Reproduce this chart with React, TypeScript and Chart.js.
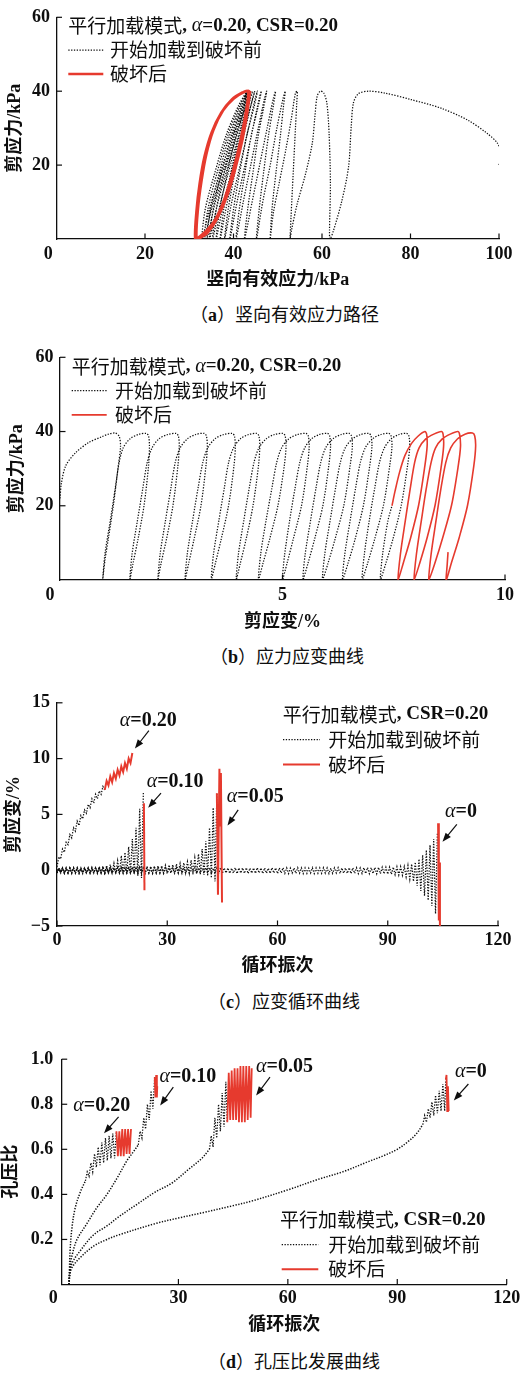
import React, { useEffect, useRef } from 'react';
import { Chart, registerables } from 'chart.js';

Chart.register(...registerables);

type Pt = [number, number];

// ---------------- (a) 竖向有效应力路径 : [竖向有效应力 kPa, 剪应力 kPa] ----------------
const aBeforeFailure: Pt[] = [
  [100, 20], [100.6, 23], [99.6, 26], [97.3, 28.6], [92.9, 32.2], [86.9, 35.4], [80.2, 37.7], [74.2, 39.5], [70.5, 40],
  [68.2, 39.3], [67.1, 36.8], [66.6, 30.4], [66.0, 19.5], [64.5, 10.4], [62.6, 2.3], [61.8, 0],
  [61.7, 2.3], [61.9, 15], [61.6, 28.6], [61.1, 36.8], [60.4, 39.5], [59.6, 40],
  [58.9, 38.6], [58.4, 33.2], [57.8, 25.9], [56.3, 17.7], [54.4, 9.5], [53.1, 2.3], [52.8, 0],
  [53.0, 6], [53.5, 18], [54.0, 30], [54.3, 37], [54.4, 40],
  [54.0, 39.5], [53.0, 32], [51.8, 24], [50.3, 15], [49.0, 7], [48.3, 0],
  [48.7, 8], [49.6, 18], [50.6, 28], [51.3, 36], [51.7, 40],
  [51.2, 38], [49.8, 30], [48.3, 20], [46.6, 10], [45.2, 0],
  [45.8, 8], [46.8, 18], [47.9, 28], [49.0, 36], [49.5, 40],
  [49.0, 38], [47.6, 30], [45.9, 20], [44.2, 10], [42.5, 0],
  [43.2, 8], [44.4, 18], [45.6, 28], [46.9, 36], [47.5, 40],
  [47.0, 38], [45.6, 30], [43.9, 20], [42.2, 10], [40.6, 0],
  [41.3, 8], [42.6, 18], [44.0, 28], [45.6, 36], [46.3, 40],
  [45.8, 38], [44.4, 30], [42.6, 20], [40.8, 10], [39.2, 0],
  [40.0, 8], [41.4, 18], [43.0, 28], [44.7, 36], [45.4, 40],
  [44.9, 38], [43.4, 30], [41.5, 20], [39.6, 10], [38.0, 0],
  [38.8, 8], [40.3, 18], [42.0, 28], [43.9, 36], [44.8, 40],
  [44.3, 38], [42.7, 30], [40.6, 20], [38.6, 10], [37.0, 0],
  [37.8, 8], [39.4, 18], [41.3, 28], [43.3, 36], [44.3, 40],
  [43.8, 38], [42.1, 30], [39.9, 20], [37.8, 10], [36.1, 0],
  [36.9, 8], [38.6, 18], [40.6, 28], [42.8, 36], [43.9, 40],
  [43.4, 38], [41.6, 30], [39.3, 20], [37.1, 10], [35.3, 0],
  [36.1, 8], [37.9, 18], [40.0, 28], [42.4, 36], [43.6, 40],
  [43.1, 38], [41.2, 30], [38.8, 20], [36.5, 10], [34.6, 0],
  [35.4, 8], [37.3, 18], [39.5, 28], [42.0, 36], [43.4, 40],
  [42.9, 38], [40.9, 30], [38.4, 20], [35.9, 10], [34.0, 0],
  [34.8, 8], [36.8, 18], [39.1, 28], [41.7, 36], [43.2, 40],
  [42.7, 38], [40.6, 30], [38.0, 20], [35.4, 10], [33.4, 0],
  [34.2, 8], [36.3, 18], [38.7, 28], [41.4, 36], [43.1, 40],
  [42.5, 38], [40.3, 30], [37.6, 20], [35.0, 10], [32.9, 0],
  [33.6, 8], [35.8, 18], [38.3, 28], [41.1, 36], [43.0, 40],
];
const aAfterFailure: Pt[] = [
  [43.0, 40],
  [42.0, 39.7], [39.6, 37.8], [37.2, 34.2], [35.0, 28.8], [33.4, 22.3], [32.3, 15], [31.6, 7.7], [31.3, 0],
  [32.2, 0.6], [33.6, 2], [35.8, 5.2], [38.1, 11.5], [39.9, 18.7], [41.4, 26], [42.6, 33.3], [43.3, 40],
  [42.2, 39.8], [39.8, 37.9], [37.4, 34.5], [35.2, 29.2], [33.6, 22.6], [32.5, 15.3], [31.8, 7.9], [31.5, 0],
  [32.4, 0.5], [33.9, 1.8], [36.1, 5.4], [38.4, 11.8], [40.2, 19], [41.7, 26.3], [42.9, 33.6], [43.6, 40],
  [42.5, 39.8], [40.1, 38.0], [37.7, 34.8], [35.5, 29.5], [33.9, 22.9], [32.8, 15.6], [32.0, 8.0], [31.7, 0],
  [32.7, 0.4], [34.2, 1.7], [36.4, 5.6], [38.7, 12.0], [40.5, 19.2], [42.0, 26.5], [43.1, 33.8], [43.8, 40],
];
const aXTicks = [20, 40, 60, 80, 100];
const aYTicks = [20, 40, 60];

// ---------------- (b) 应力应变曲线 : [剪应变 %, 剪应力 kPa] ----------------
const bBeforeFailure: Pt[] = [
  [0, 22], [0.03, 26], [0.13, 30.8], [0.35, 34.3], [0.64, 37], [0.94, 38.6], [1.09, 39.3], [1.24, 39.6],
  [1.33, 38.7], [1.36, 36], [1.31, 30.8], [1.20, 20.2], [1.09, 11.4], [1.01, 5.3], [0.96, 0],
  [1.01, 7], [1.13, 16], [1.24, 24.6], [1.33, 31.7], [1.42, 35.6], [1.57, 38], [1.76, 39.2], [1.94, 39.5],
  [1.99, 38.8], [2.01, 36], [1.99, 30.8], [1.89, 20.2], [1.76, 11.4], [1.64, 4.4], [1.57, 0],
  [1.62, 7], [1.74, 16], [1.86, 24.6], [1.96, 31.7], [2.07, 35.6], [2.22, 38], [2.42, 39.2], [2.61, 39.5],
  [2.66, 38.8], [2.68, 36], [2.65, 30.8], [2.54, 20.2], [2.40, 11.4], [2.27, 4.4], [2.20, 0],
  [2.25, 7], [2.37, 16], [2.49, 24.6], [2.59, 31.7], [2.70, 35.6], [2.86, 38], [3.05, 39.2], [3.24, 39.5],
  [3.29, 38.8], [3.31, 36], [3.28, 30.8], [3.17, 20.2], [3.02, 11.4], [2.89, 4.4], [2.81, 0],
  [2.86, 7], [2.98, 16], [3.10, 24.6], [3.21, 31.7], [3.32, 35.6], [3.48, 38], [3.68, 39.2], [3.87, 39.5],
  [3.92, 38.8], [3.94, 36], [3.91, 30.8], [3.79, 20.2], [3.63, 11.4], [3.49, 4.4], [3.40, 0],
  [3.45, 7], [3.57, 16], [3.69, 24.6], [3.79, 31.7], [3.90, 35.6], [4.05, 38], [4.24, 39.2], [4.42, 39.5],
  [4.47, 38.8], [4.49, 36], [4.46, 30.8], [4.34, 20.2], [4.19, 11.4], [4.05, 4.4], [3.96, 0],
  [4.01, 7], [4.13, 16], [4.25, 24.6], [4.36, 31.7], [4.47, 35.6], [4.63, 38], [4.82, 39.2], [5.01, 39.5],
  [5.06, 38.8], [5.08, 36], [5.04, 30.8], [4.90, 20.2], [4.72, 11.4], [4.56, 4.4], [4.46, 0],
  [4.51, 7], [4.63, 16], [4.76, 24.6], [4.87, 31.7], [4.98, 35.6], [5.14, 38], [5.34, 39.2], [5.53, 39.5],
  [5.58, 38.8], [5.60, 36], [5.56, 30.8], [5.43, 20.2], [5.25, 11.4], [5.10, 4.4], [5.00, 0],
  [5.05, 7], [5.16, 16], [5.28, 24.6], [5.39, 31.7], [5.50, 35.6], [5.65, 38], [5.83, 39.2], [6.01, 39.5],
  [6.06, 38.8], [6.08, 36], [6.04, 30.8], [5.91, 20.2], [5.73, 11.4], [5.57, 4.4], [5.46, 0],
  [5.51, 7], [5.63, 16], [5.75, 24.6], [5.86, 31.7], [5.97, 35.6], [6.13, 38], [6.32, 39.2], [6.50, 39.5],
  [6.55, 38.8], [6.57, 36], [6.52, 30.8], [6.38, 20.2], [6.19, 11.4], [6.02, 4.4], [5.90, 0],
  [5.95, 7], [6.07, 16], [6.19, 24.6], [6.30, 31.7], [6.41, 35.6], [6.57, 38], [6.76, 39.2], [6.94, 39.5],
  [6.99, 38.8], [7.01, 36], [6.96, 30.8], [6.82, 20.2], [6.64, 11.4], [6.47, 4.4], [6.35, 0],
  [6.40, 7], [6.52, 16], [6.64, 24.6], [6.75, 31.7], [6.86, 35.6], [7.02, 38], [7.21, 39.2], [7.39, 39.5],
  [7.44, 38.8], [7.46, 36], [7.41, 30.8], [7.27, 20.2], [7.08, 11.4], [6.91, 4.4], [6.79, 0],
  [6.84, 7], [6.95, 16], [7.07, 24.6], [7.18, 31.7], [7.29, 35.6], [7.44, 38], [7.62, 39.2], [7.79, 39.5],
  [7.84, 38.8], [7.86, 36], [7.81, 30.8], [7.67, 20.2], [7.49, 11.4], [7.32, 4.4], [7.20, 0],
  [7.25, 7], [7.37, 16], [7.46, 20],
];
const bAfterFailure: Pt[] = [
  [7.46, 20], [7.53, 24], [7.63, 29], [7.75, 33.5], [7.90, 36.8], [8.05, 38.8], [8.20, 40],
  [8.24, 39.2], [8.25, 36], [8.20, 30.8], [8.06, 20.2], [7.88, 11.4], [7.71, 4.4], [7.60, 0],
  [7.65, 7], [7.76, 16], [7.87, 24.6], [7.97, 31.7], [8.07, 35.6], [8.22, 38], [8.40, 39.3], [8.57, 40],
  [8.61, 39.2], [8.62, 36], [8.57, 30.8], [8.43, 20.2], [8.25, 11.4], [8.08, 4.4], [7.96, 0],
  [8.01, 7], [8.12, 16], [8.23, 24.6], [8.34, 31.7], [8.44, 35.6], [8.59, 38], [8.77, 39.3], [8.94, 40],
  [8.98, 39.2], [9.00, 36], [8.95, 30.8], [8.80, 20.2], [8.60, 11.4], [8.42, 4.4], [8.29, 0],
  [8.34, 7], [8.45, 16], [8.56, 24.6], [8.67, 31.7], [8.78, 35.6], [8.93, 38], [9.10, 39.3], [9.27, 39.6],
  [9.32, 38.8], [9.34, 36], [9.30, 30.8], [9.16, 20.2], [8.97, 11.4], [8.79, 4.4], [8.68, 0],
  [8.70, 4], [8.72, 7.5],
];
const bXTicks = [5, 10];
const bYTicks = [20, 40, 60];

// ---------------- (c) 应变循环曲线 : per-cycle min / max 剪应变 % ----------------
const c0Lo = [
  -0.2, -0.25, -0.28, -0.25, -0.3, -0.25, -0.28, -0.3, -0.25, -0.28,
  -0.26, -0.3, -0.25, -0.28, -0.26, -0.3, -0.25, -0.27, -0.3, -0.26,
  -0.28, -0.25, -0.3, -0.26, -0.28, -0.25, -0.3, -0.27, -0.25, -0.28,
  -0.3, -0.26, -0.28, -0.25, -0.3, -0.27, -0.25, -0.28, -0.3, -0.26,
  -0.28, -0.25, -0.3, -0.26, -0.28, -0.3, -0.25, -0.28, -0.26, -0.3,
  -0.25, -0.28, -0.3, -0.26, -0.28, -0.25, -0.3, -0.27, -0.28, -0.25,
  -0.3, -0.26, -0.28, -0.3, -0.25, -0.28, -0.26, -0.3, -0.28, -0.25,
  -0.3, -0.27, -0.28, -0.26, -0.3, -0.28, -0.25, -0.3, -0.27, -0.28,
  -0.3, -0.28, -0.3, -0.29, -0.3, -0.31, -0.3, -0.32, -0.32, -0.33,
  -0.35, -0.37, -0.4, -0.42, -0.45, -0.6, -0.8, -1.0, -1.4, -1.85,
  -2.3, -2.7, -3.2, -3.9,
];
const c0Hi = [
  0.15, 0.2, 0.22, 0.18, 0.2, 0.22, 0.2, 0.18, 0.22, 0.2,
  0.2, 0.22, 0.18, 0.2, 0.22, 0.2, 0.2, 0.18, 0.22, 0.2,
  0.18, 0.2, 0.22, 0.2, 0.2, 0.18, 0.22, 0.2, 0.2, 0.22,
  0.2, 0.18, 0.2, 0.22, 0.2, 0.2, 0.18, 0.22, 0.2, 0.2,
  0.22, 0.2, 0.18, 0.2, 0.22, 0.2, 0.2, 0.18, 0.22, 0.2,
  0.2, 0.22, 0.18, 0.2, 0.22, 0.2, 0.2, 0.18, 0.22, 0.2,
  0.2, 0.22, 0.2, 0.18, 0.2, 0.22, 0.2, 0.2, 0.18, 0.22,
  0.2, 0.2, 0.22, 0.2, 0.18, 0.2, 0.22, 0.2, 0.2, 0.22,
  0.2, 0.22, 0.2, 0.22, 0.24, 0.22, 0.24, 0.25, 0.26, 0.26,
  0.27, 0.28, 0.3, 0.31, 0.32, 0.42, 0.55, 0.72, 1.0, 1.35,
  1.8, 2.25, 2.8, 3.3,
];
const c0Fail: Pt[] = [[103.7, 4.2], [103.9, -4.5], [104.0, 0.7], [104.2, -5.0]];

const c05Lo = [
  -0.25, -0.22, -0.28, -0.25, -0.22, -0.26, -0.28, -0.24, -0.25, -0.27,
  -0.25, -0.22, -0.26, -0.28, -0.24, -0.25, -0.22, -0.26, -0.25, -0.24,
  -0.25, -0.22, -0.24, -0.25, -0.22, -0.24, -0.25, -0.22, -0.24, -0.25,
  -0.22, -0.24, -0.25, -0.22, -0.25, -0.24, -0.26, -0.28, -0.3, -0.35,
  -0.4, -0.5, -0.7, -1.0,
];
const c05Hi = [
  0.2, 0.18, 0.22, 0.2, 0.2, 0.22, 0.18, 0.2, 0.22, 0.2,
  0.2, 0.22, 0.2, 0.18, 0.22, 0.2, 0.22, 0.24, 0.22, 0.25,
  0.25, 0.27, 0.28, 0.3, 0.32, 0.34, 0.36, 0.38, 0.4, 0.43,
  0.47, 0.5, 0.55, 0.6, 0.66, 0.75, 0.9, 1.1, 1.45, 1.9,
  2.6, 3.8, 5.6, 6.9,
];
const c05Fail: Pt[] = [[43.5, 6.9], [43.8, -2.2], [44.2, 9.1], [44.4, 4.0], [44.6, 8.7], [44.9, -2.9]];

const c10Lo = [
  -0.25, -0.22, -0.27, -0.25, -0.23, -0.26, -0.25, -0.22, -0.25, -0.24,
  -0.25, -0.22, -0.24, -0.25, -0.24, -0.25, -0.26, -0.27, -0.28, -0.3,
  -0.32, -0.36, -0.5, -0.7,
];
const c10Hi = [
  0.2, 0.22, 0.18, 0.2, 0.22, 0.2, 0.2, 0.22, 0.22, 0.24,
  0.26, 0.3, 0.35, 0.42, 0.5, 0.62, 0.85, 1.3, 1.6, 2.1,
  2.8, 3.8, 5.5, 7.0,
];
const c10Fail: Pt[] = [[23.65, 6.0], [23.8, -1.8]];

const c20Lo = [0.3, 1.0, 1.6, 2.3, 2.9, 3.5, 4.0, 4.6, 5.1, 5.6, 6.0, 6.4, 6.8, 7.2];
const c20Hi = [1.2, 1.9, 2.5, 3.2, 3.8, 4.4, 4.9, 5.4, 5.9, 6.4, 6.8, 7.1, 7.5];
const c20FailLo = [7.2, 7.6, 7.9, 8.2, 8.5, 8.8, 9.1, 9.6];
const c20FailHi = [8.0, 8.4, 8.7, 9.0, 9.3, 9.6, 10.0, 10.5];
const c20FailStart = 13;
const cXTicks = [0, 30, 60, 90, 120];
const cYTicks = [-5, 0, 5, 10, 15];

// ---------------- (d) 孔压比发展曲线 : [循环振次, 孔压比] ----------------
const d20Rise: Pt[] = [[0, 0], [0.1, 0.05], [0.3, 0.15], [0.8, 0.25], [1.7, 0.34], [3.1, 0.41], [4.5, 0.46]];
const d20Band: Pt[] = [
  [4.5, 0.46], [5, 0.5], [5.5, 0.48], [6, 0.54], [6.5, 0.5], [7, 0.58], [7.5, 0.52], [8, 0.61], [8.5, 0.53],
  [9, 0.63], [9.5, 0.54], [10, 0.65], [10.5, 0.55], [11, 0.66], [11.5, 0.56], [12, 0.67], [12.5, 0.56], [13, 0.68],
];
const d20Fail: Pt[] = [
  [13, 0.68], [13.4, 0.57], [13.8, 0.68], [14.2, 0.57], [14.6, 0.69], [15.0, 0.57], [15.4, 0.69], [15.8, 0.58],
  [16.2, 0.69], [16.6, 0.58], [17.0, 0.69],
];
const d10Rise: Pt[] = [
  [0, 0], [0.3, 0.08], [1, 0.14], [2.2, 0.2], [4.9, 0.27], [7.6, 0.34], [10.4, 0.4], [13.1, 0.47], [15.9, 0.55],
  [17.7, 0.59], [19, 0.62],
];
const d10Band: Pt[] = [
  [19, 0.62], [19.5, 0.68], [20, 0.65], [20.5, 0.74], [21, 0.69], [21.5, 0.8], [22, 0.73], [22.5, 0.86], [23, 0.78], [23.5, 0.92],
];
const d10Fail: Pt[] = [[23.5, 0.92], [23.7, 0.83], [23.9, 0.93], [24.1, 0.83], [24.2, 0.88]];
const d05Rise: Pt[] = [
  [0, 0], [0.3, 0.06], [1, 0.1], [3.1, 0.15], [6.7, 0.22], [10.4, 0.26], [13.6, 0.3], [19, 0.36], [23.6, 0.41],
  [28.2, 0.45], [32.7, 0.51], [36.4, 0.56], [38.5, 0.6],
];
const d05Band: Pt[] = [
  [38.5, 0.6], [39, 0.66], [39.5, 0.61], [40, 0.74], [40.5, 0.65], [41, 0.8], [41.5, 0.68], [42, 0.85], [42.5, 0.7], [43, 0.9], [43.4, 0.72],
];
const d05Fail: Pt[] = [
  [43.4, 0.72], [43.8, 0.94], [44.2, 0.73], [44.6, 0.95], [45.0, 0.73], [45.4, 0.96], [45.8, 0.73], [46.2, 0.96], [46.6, 0.72],
  [47.0, 0.97], [47.4, 0.72], [47.8, 0.97], [48.2, 0.72], [48.6, 0.97], [49.0, 0.73], [49.4, 0.97], [49.8, 0.74], [50.1, 0.96],
];
const d0Rise: Pt[] = [
  [0, 0], [0.3, 0.05], [1, 0.08], [3.1, 0.12], [6.7, 0.17], [10.4, 0.2], [13.6, 0.22], [23.6, 0.27], [30, 0.295],
  [37, 0.32], [45, 0.35], [50, 0.37], [60, 0.42], [68, 0.465], [75, 0.5], [82, 0.545], [86, 0.57], [90, 0.6],
  [93, 0.635], [95.3, 0.67], [97, 0.71],
];
const d0Band: Pt[] = [
  [97, 0.71], [97.5, 0.75], [98, 0.72], [98.5, 0.78], [99, 0.74], [99.5, 0.81], [100, 0.75], [100.5, 0.84],
  [101, 0.76], [101.5, 0.86], [102, 0.77], [102.5, 0.89], [103, 0.77], [103.3, 0.91],
];
const d0Fail: Pt[] = [[103.3, 0.91], [103.5, 0.93], [103.7, 0.77], [103.9, 0.88], [104.1, 0.77]];
const dXTicks = [30, 60, 90, 120];
const dYTicks = [0.2, 0.4, 0.6, 0.8, 1.0];

// ---------------- texts ----------------
const LEGEND_BEFORE = '开始加载到破坏前';
const LEGEND_AFTER = '破坏后';

// ---------------- styling ----------------
const W = 528;
const H = 1383;
const SERIF = "'Liberation Serif', 'Times New Roman', serif";
const CJK = "'Noto Sans CJK SC', 'Noto Sans CJK JP', sans-serif";
const MIXED = "'Liberation Serif', 'Noto Sans CJK SC', serif";
const INK = '#0e0e0e';
const RED = '#e63a2e';
const DOT = [1.3, 1.5];
const TICK_FONT = { family: SERIF, size: 18, weight: 'bold' };
const TITLE_FONT = { family: MIXED, size: 18, weight: 'bold' };

interface Seg { t: string; f: string }
interface Note { x: number; y: number; segs: Seg[]; from: Pt; to: Pt }
interface LegendSpec { dx: number; dy: number; gap: number; sampleDx: number; sampleW: number; textDx: number; redW: number; title: Seg[] }
interface AxisSpec { min: number; max: number; ticks: number[]; tickPad: number; title: string; titlePad: number; fmt?: (v: number) => string }
interface PanelSpec {
  top: number; height: number;
  area: { left: number; right: number; top: number; bottom: number };
  x: AxisSpec; y: AxisSpec; originDx?: number;
  legend: LegendSpec; notes: Note[]; datasets: any[];
}

const toXY = (pts: Pt[]) => pts.map(([x, y]) => ({ x, y }));
function zigzag(lo: number[], hi: number[], start: number): Pt[] {
  const out: Pt[] = [];
  const n = Math.max(lo.length, hi.length);
  for (let i = 0; i < n; i++) {
    if (i < lo.length) out.push([start + i, lo[i]]);
    if (i < hi.length) out.push([start + i + 0.5, hi[i]]);
  }
  return out;
}
const dotted = (pts: Pt[], tension = 0, width = 1.25) => ({
  data: toXY(pts), showLine: true, borderColor: INK, borderWidth: width, borderDash: DOT,
  pointRadius: 0, pointHoverRadius: 0, tension, fill: false,
});
const solid = (pts: Pt[], width: number, tension = 0) => ({
  data: toXY(pts), showLine: true, borderColor: RED, borderWidth: width,
  pointRadius: 0, pointHoverRadius: 0, tension, fill: false,
});

const alpha = (v: string): Seg[] => [
  { t: 'α', f: `italic 20px ${SERIF}` },
  { t: '=' + v, f: `bold 20px ${SERIF}` },
];
const titleWithAlpha: Seg[] = [
  { t: '平行加载模式', f: `19px ${CJK}` },
  { t: ', ', f: `bold 19px ${SERIF}` },
  { t: 'α', f: `italic 20px ${SERIF}` },
  { t: '=0.20, CSR=0.20', f: `bold 19px ${SERIF}` },
];
const titlePlain: Seg[] = [
  { t: '平行加载模式', f: `19px ${CJK}` },
  { t: ', ', f: `bold 19px ${SERIF}` },
  { t: 'CSR=0.20', f: `bold 19px ${SERIF}` },
];
const minus = (v: number) => (v < 0 ? '\u2212' + Math.abs(v) : String(v));

const PANELS: PanelSpec[] = [
  {
    top: 0, height: 300,
    area: { left: 56.5, right: 499, top: 14, bottom: 239 },
    x: { min: 0, max: 100, ticks: aXTicks, tickPad: 4.2, title: '竖向有效应力/kPa', titlePad: 9.2 },
    y: { min: 0, max: 60, ticks: aYTicks, tickPad: 6.5, title: '剪应力/kPa', titlePad: 4.2 },
    originDx: -8.2,
    legend: { dx: 11.8, dy: 8.7, gap: 24, sampleDx: 0, sampleW: 35, textDx: 41.7, redW: 2.4, title: titleWithAlpha },
    notes: [],
    datasets: [solid(aAfterFailure, 2.2, 0.3), dotted(aBeforeFailure, 0.3)],
  },
  {
    top: 340, height: 300,
    area: { left: 60, right: 505, top: 15, bottom: 240 },
    x: { min: 0, max: 10, ticks: bXTicks, tickPad: 4.2, title: '剪应变/%', titlePad: 7.2 },
    y: { min: 0, max: 60, ticks: bYTicks, tickPad: 6.5, title: '剪应力/kPa', titlePad: 6.2 },
    originDx: -10,
    legend: { dx: 11.7, dy: 9, gap: 24.3, sampleDx: 0, sampleW: 35, textDx: 43.3, redW: 1.8, title: titleWithAlpha },
    notes: [],
    datasets: [solid(bAfterFailure, 1.6, 0.3), dotted(bBeforeFailure, 0.3)],
  },
  {
    top: 685, height: 300,
    area: { left: 57, right: 498, top: 14, bottom: 241 },
    x: { min: 0, max: 120, ticks: cXTicks, tickPad: 3.2, title: '循环振次', titlePad: 8.2 },
    y: { min: -5, max: 15, ticks: cYTicks, tickPad: 7, title: '剪应变/%', titlePad: 3.2, fmt: minus },
    legend: { dx: 225.7, dy: 11.7, gap: 25, sampleDx: 0.3, sampleW: 37, textDx: 45.6, redW: 2, title: titlePlain },
    notes: [
      { x: 17.1, y: 13.4, segs: alpha('0.20'), from: [25.0, 12.5], to: [21.2, 10.9] },
      { x: 24.4, y: 7.9, segs: alpha('0.10'), from: [28.3, 6.9], to: [24.8, 5.6] },
      { x: 46.2, y: 6.55, segs: alpha('0.05'), from: [49.3, 5.4], to: [46.4, 4.0] },
      { x: 105.6, y: 5.2, segs: alpha('0'), from: [108.8, 4.1], to: [104.9, 2.55] },
    ],
    datasets: [
      solid(c0Fail, 2), solid(c05Fail, 2), solid(c10Fail, 2),
      solid(zigzag(c20FailLo, c20FailHi, c20FailStart), 2),
      dotted(zigzag(c20Lo, c20Hi, 0)),
      dotted(zigzag(c10Lo, c10Hi, 0)),
      dotted(zigzag(c05Lo, c05Hi, 0)),
      dotted(zigzag(c0Lo, c0Hi, 0)),
    ],
  },
  {
    top: 1040, height: 300,
    area: { left: 61.7, right: 506.7, top: 16.7, bottom: 244.5 },
    x: { min: -2, max: 120, ticks: dXTicks, tickPad: 2.7, title: '循环振次', titlePad: 4.2 },
    y: { min: 0, max: 1, ticks: dYTicks, tickPad: 8.4, title: '孔压比', titlePad: 0.2, fmt: (v) => v.toFixed(1) },
    originDx: -8.4,
    legend: { dx: 218.3, dy: 160.6, gap: 24.7, sampleDx: 1.7, sampleW: 36.6, textDx: 48.3, redW: 2, title: titlePlain },
    notes: [
      { x: 1.2, y: 0.795, segs: alpha('0.20'), from: [13.6, 0.744], to: [9.6, 0.671] },
      { x: 24.8, y: 0.92, segs: alpha('0.10'), from: [28.6, 0.876], to: [25.0, 0.795] },
      { x: 51.3, y: 0.968, segs: alpha('0.05'), from: [55.1, 0.92], to: [51.3, 0.839] },
      { x: 105.8, y: 0.945, segs: alpha('0'), from: [109.5, 0.89], to: [105.5, 0.817] },
    ],
    datasets: [
      solid(d20Fail, 1.8), solid(d10Fail, 1.8), solid(d05Fail, 1.8), solid(d0Fail, 1.8),
      dotted(d20Band), dotted(d10Band), dotted(d05Band), dotted(d0Band),
      dotted(d20Rise, 0.35, 1.5), dotted(d10Rise, 0.35, 1.5), dotted(d05Rise, 0.35, 1.5), dotted(d0Rise, 0.35, 1.5),
    ],
  },
];

const CAPTIONS = [
  { tag: 'a', text: '竖向有效应力路径', left: 190, top: 304 },
  { tag: 'b', text: '应力应变曲线', left: 210, top: 646 },
  { tag: 'c', text: '应变循环曲线', left: 208, top: 991 },
  { tag: 'd', text: '孔压比发展曲线', left: 208, top: 1351 },
];

function drawSegs(ctx: CanvasRenderingContext2D, segs: Seg[], x: number, y: number) {
  let cx = x;
  for (const s of segs) {
    ctx.font = s.f;
    ctx.fillText(s.t, cx, y);
    cx += ctx.measureText(s.t).width;
  }
}

function drawArrow(ctx: CanvasRenderingContext2D, x1: number, y1: number, x2: number, y2: number) {
  const a = Math.atan2(y2 - y1, x2 - x1);
  const L = 9, Wd = 3.4;
  const bx = x2 - L * Math.cos(a), by = y2 - L * Math.sin(a);
  ctx.beginPath();
  ctx.moveTo(x1, y1);
  ctx.lineTo(bx + 1 * Math.cos(a), by + 1 * Math.sin(a));
  ctx.stroke();
  ctx.beginPath();
  ctx.moveTo(x2, y2);
  ctx.lineTo(bx + Wd * Math.sin(a), by - Wd * Math.cos(a));
  ctx.lineTo(bx - Wd * Math.sin(a), by + Wd * Math.cos(a));
  ctx.closePath();
  ctx.fill();
}

function makeOverlay(spec: PanelSpec) {
  return {
    id: 'overlay',
    afterDraw(chart: any) {
      const ctx: CanvasRenderingContext2D = chart.ctx;
      const { left, top, bottom } = chart.chartArea;
      const xs = chart.scales.x, ys = chart.scales.y;
      ctx.save();
      ctx.setLineDash([]);
      ctx.strokeStyle = INK;
      ctx.fillStyle = INK;
      ctx.lineWidth = 1.2;
      // inward tick marks
      for (const t of xs.ticks) {
        const px = xs.getPixelForValue(t.value);
        ctx.beginPath(); ctx.moveTo(px, bottom); ctx.lineTo(px, bottom - 5.5); ctx.stroke();
      }
      for (const t of ys.ticks) {
        const py = ys.getPixelForValue(t.value);
        ctx.beginPath(); ctx.moveTo(left, py); ctx.lineTo(left + 5.5, py); ctx.stroke();
      }
      // shared origin label
      if (spec.originDx !== undefined) {
        ctx.font = `bold 18px ${SERIF}`;
        ctx.textAlign = 'center';
        ctx.textBaseline = 'middle';
        ctx.fillText('0', left + spec.originDx, bottom + spec.x.tickPad + 10.8);
      }
      // legend
      const lg = spec.legend;
      const lx = left + lg.dx, ly = top + lg.dy;
      ctx.textAlign = 'left';
      ctx.textBaseline = 'middle';
      drawSegs(ctx, lg.title, lx, ly);
      const r1 = ly + lg.gap, r2 = ly + 2 * lg.gap;
      ctx.lineWidth = 1.25;
      ctx.setLineDash(DOT);
      ctx.beginPath(); ctx.moveTo(lx + lg.sampleDx, r1); ctx.lineTo(lx + lg.sampleDx + lg.sampleW, r1); ctx.stroke();
      ctx.setLineDash([]);
      ctx.strokeStyle = RED;
      ctx.lineWidth = lg.redW;
      ctx.beginPath(); ctx.moveTo(lx + lg.sampleDx, r2); ctx.lineTo(lx + lg.sampleDx + lg.sampleW, r2); ctx.stroke();
      ctx.font = `19px ${CJK}`;
      ctx.fillText(LEGEND_BEFORE, lx + lg.textDx, r1);
      ctx.fillText(LEGEND_AFTER, lx + lg.textDx, r2);
      // annotations
      ctx.strokeStyle = INK;
      ctx.lineWidth = 1.2;
      for (const n of spec.notes) {
        drawSegs(ctx, n.segs, xs.getPixelForValue(n.x), ys.getPixelForValue(n.y));
        drawArrow(ctx,
          xs.getPixelForValue(n.from[0]), ys.getPixelForValue(n.from[1]),
          xs.getPixelForValue(n.to[0]), ys.getPixelForValue(n.to[1]));
      }
      ctx.restore();
    },
  };
}

function axisOptions(spec: PanelSpec, isX: boolean) {
  const a = isX ? spec.x : spec.y;
  return {
    type: 'linear',
    position: isX ? 'bottom' : 'left',
    min: a.min,
    max: a.max,
    afterBuildTicks: (s: any) => { s.ticks = a.ticks.map((v) => ({ value: v })); },
    afterFit: (s: any) => {
      if (isX) s.height = spec.height - spec.area.bottom;
      else s.width = spec.area.left;
    },
    grid: { display: false, drawTicks: false },
    border: { display: true, color: INK, width: 1.3 },
    ticks: {
      color: INK, font: TICK_FONT, padding: a.tickPad, autoSkip: false, maxRotation: 0, minRotation: 0,
      callback: (v: any) => (a.fmt ? a.fmt(Number(v)) : String(v)),
    },
    title: {
      display: true, text: a.title, color: INK, font: TITLE_FONT,
      padding: isX ? { top: 0, bottom: a.titlePad } : { top: a.titlePad, bottom: 0 },
    },
  };
}

function Panel({ spec }: { spec: PanelSpec }) {
  const ref = useRef<HTMLCanvasElement>(null);
  useEffect(() => {
    if (!ref.current) return;
    const chart = new Chart(ref.current, {
      type: 'scatter',
      data: { datasets: spec.datasets },
      options: {
        animation: false,
        responsive: false,
        events: [],
        layout: { autoPadding: false, padding: { left: 0, right: W - spec.area.right, top: spec.area.top, bottom: 0 } },
        plugins: { legend: { display: false }, tooltip: { enabled: false }, title: { display: false } },
        scales: { x: axisOptions(spec, true), y: axisOptions(spec, false) },
      },
      plugins: [makeOverlay(spec)],
    } as any);
    return () => chart.destroy();
  }, [spec]);
  return (
    <canvas
      ref={ref}
      width={W}
      height={spec.height}
      style={{ position: 'absolute', left: 0, top: spec.top, width: W, height: spec.height, display: 'block' }}
    />
  );
}

export default function App() {
  return (
    <div style={{ position: 'absolute', left: 0, top: 0, width: W, height: H, background: '#fff', overflow: 'hidden' }}>
      {PANELS.map((p, i) => <Panel key={i} spec={p} />)}
      {CAPTIONS.map((c) => (
        <div
          key={c.tag}
          style={{
            position: 'absolute', left: c.left, top: c.top, fontFamily: CJK, fontSize: 18,
            lineHeight: '18px', whiteSpace: 'nowrap', color: INK,
          }}
        >
          （<b style={{ fontFamily: SERIF }}>{c.tag}</b>）{c.text}
        </div>
      ))}
    </div>
  );
}
